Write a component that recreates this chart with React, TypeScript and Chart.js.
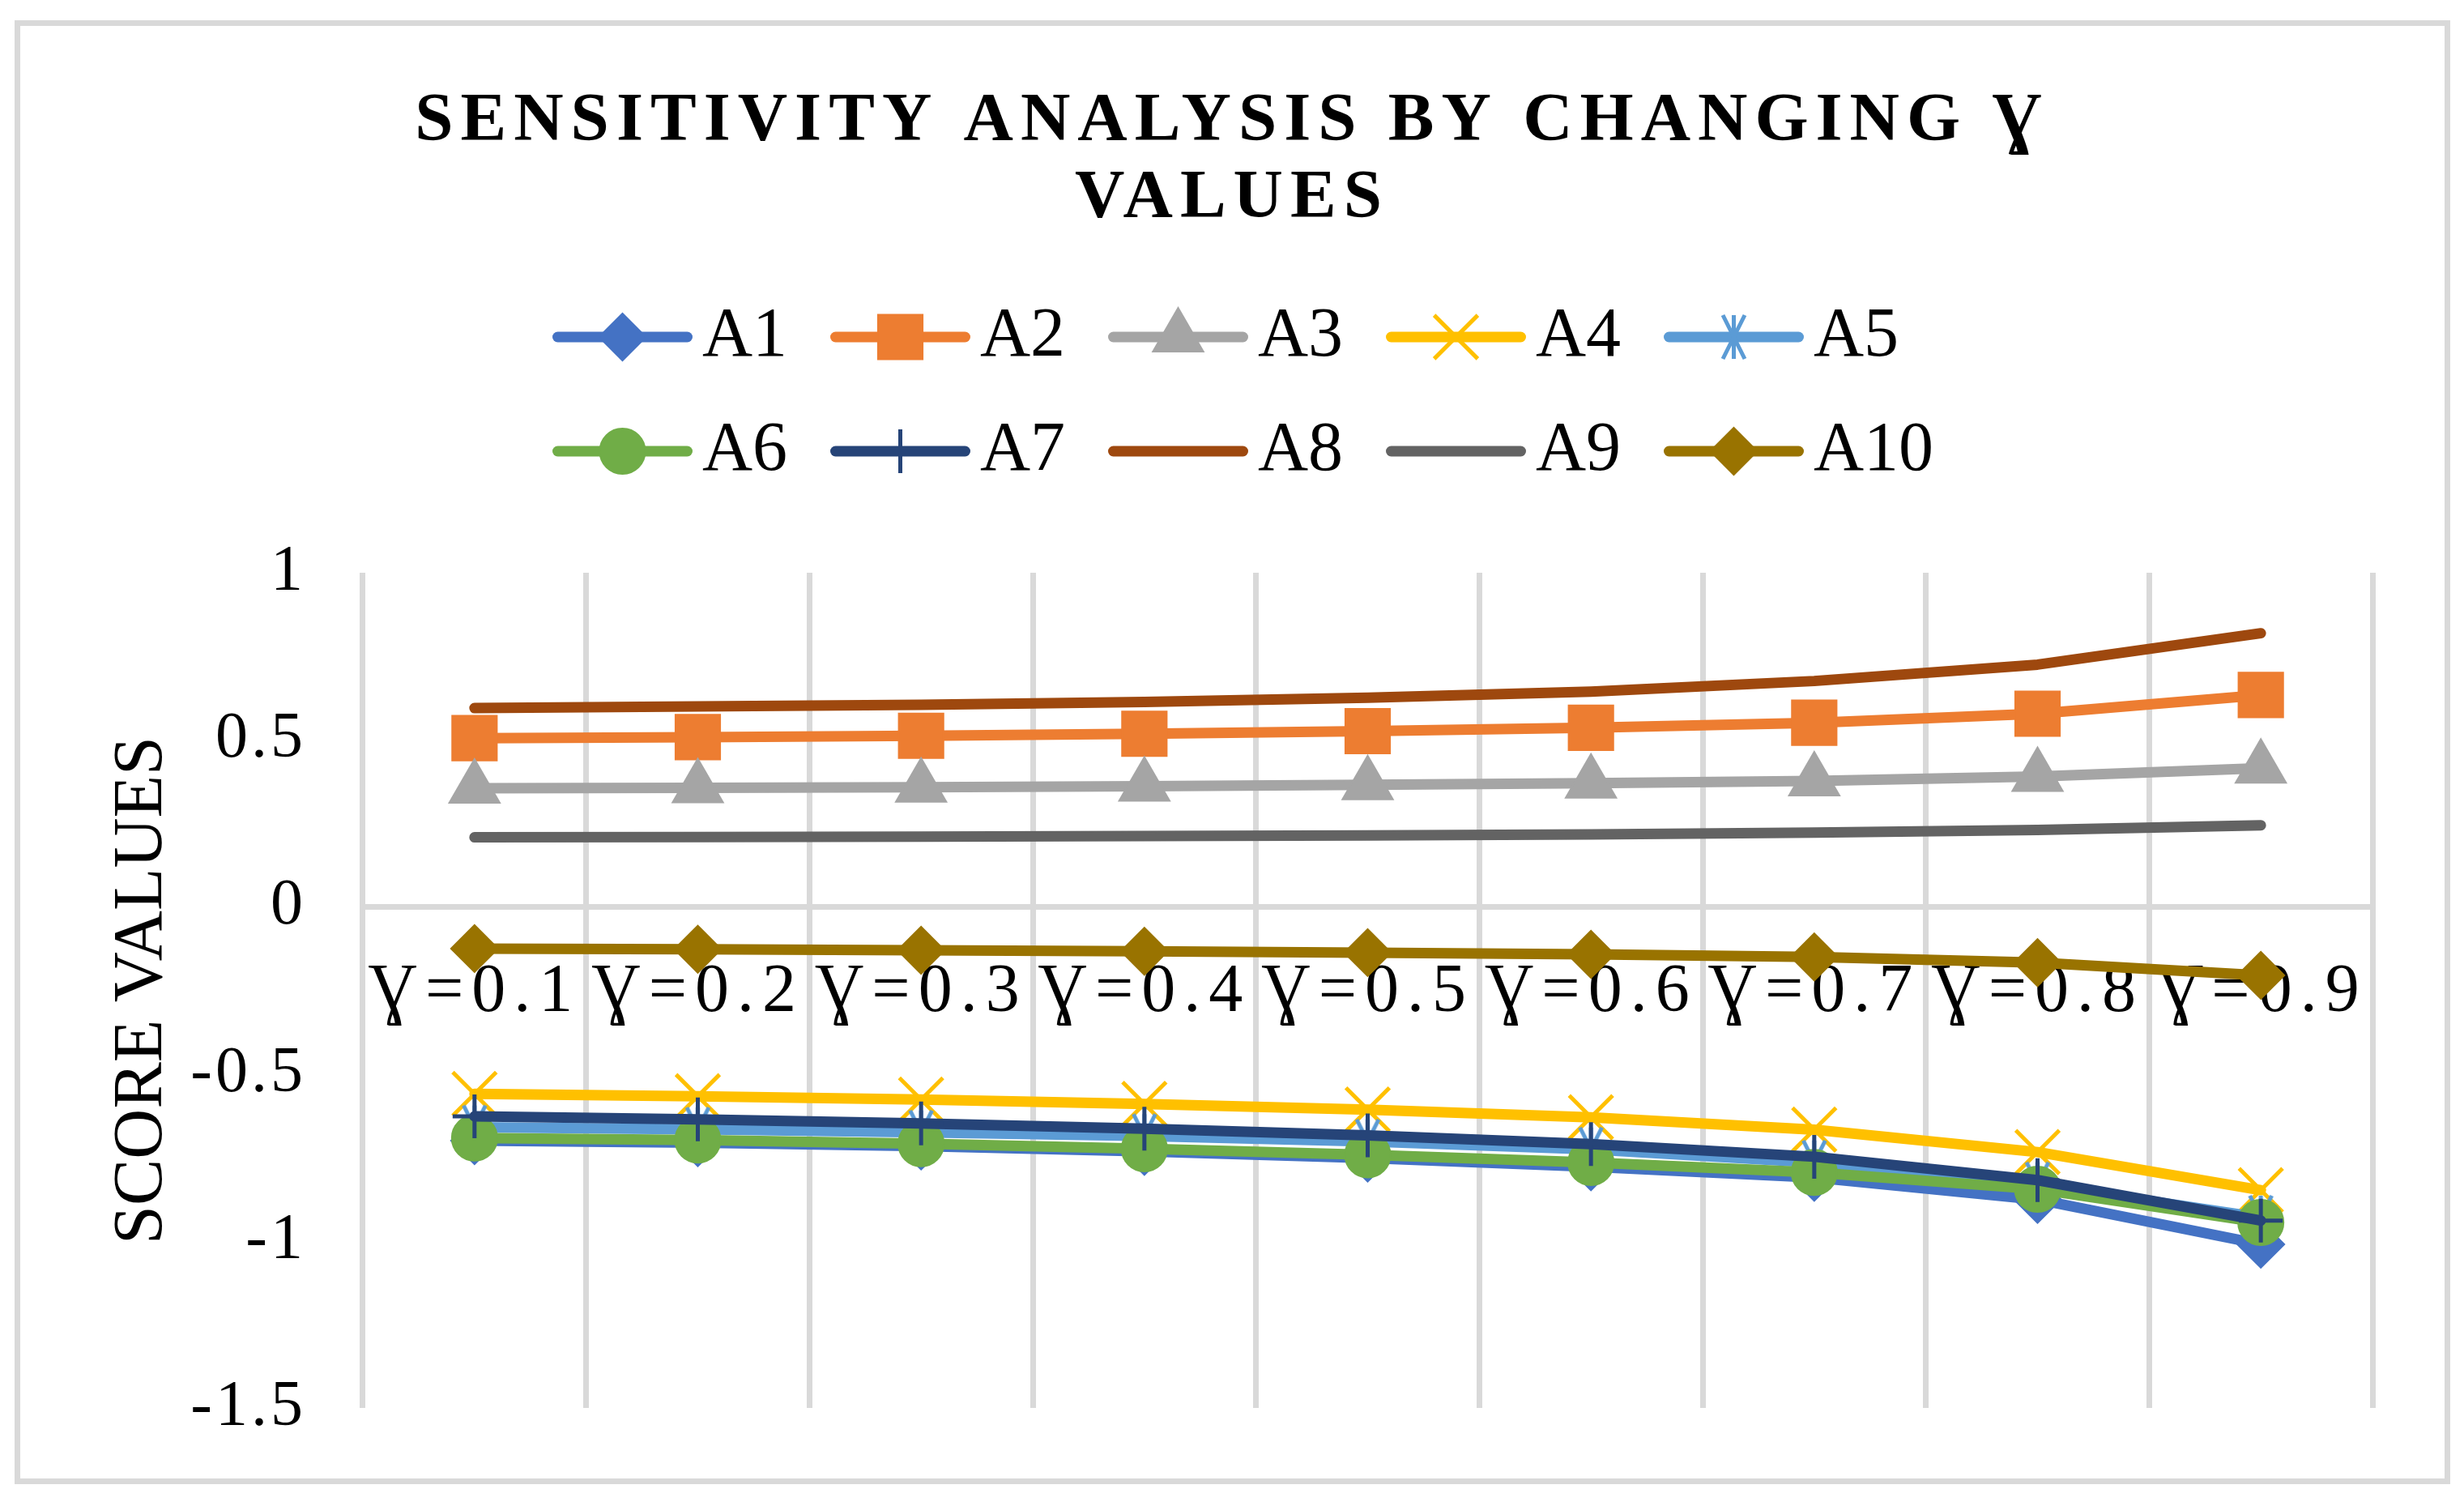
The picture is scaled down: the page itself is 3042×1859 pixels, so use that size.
import React, { useEffect, useRef } from 'react';
import { Chart, registerables, CategoryScale, LinearScale } from 'chart.js';

Chart.register(...registerables);

// ---------------- data ----------------
const CATEGORIES = ['Ɣ=0.1', 'Ɣ=0.2', 'Ɣ=0.3', 'Ɣ=0.4', 'Ɣ=0.5', 'Ɣ=0.6', 'Ɣ=0.7', 'Ɣ=0.8', 'Ɣ=0.9'];
const SERIES_NAMES = ['A1', 'A2', 'A3', 'A4', 'A5', 'A6', 'A7', 'A8', 'A9', 'A10'];

const A1 = [-0.7, -0.706, -0.716, -0.732, -0.752, -0.778, -0.81, -0.876, -1.01];
const A2 = [0.505, 0.508, 0.512, 0.518, 0.526, 0.536, 0.551, 0.578, 0.634];
const A3 = [0.355, 0.356, 0.358, 0.361, 0.365, 0.37, 0.377, 0.39, 0.415];
const A4 = [-0.56, -0.567, -0.577, -0.59, -0.607, -0.63, -0.667, -0.734, -0.848];
const A5 = [-0.66, -0.666, -0.675, -0.686, -0.702, -0.726, -0.765, -0.83, -0.93];
const A6 = [-0.692, -0.698, -0.709, -0.724, -0.742, -0.765, -0.795, -0.845, -0.945];
const A7 = [-0.627, -0.636, -0.648, -0.664, -0.684, -0.71, -0.748, -0.818, -0.939];
const A8 = [0.595, 0.6, 0.605, 0.613, 0.626, 0.644, 0.676, 0.725, 0.819];
const A9 = [0.208, 0.209, 0.21, 0.212, 0.214, 0.217, 0.222, 0.23, 0.244];
const A10 = [-0.125, -0.127, -0.13, -0.133, -0.137, -0.142, -0.15, -0.167, -0.205];
const SERIES_VALUES = [A1, A2, A3, A4, A5, A6, A7, A8, A9, A10];

const Y_MIN = -1.5;
const Y_MAX = 1;
const Y_STEP = 0.5;

const TITLE_LINES = ['SENSITIVITY ANALYSIS BY CHANGING Ɣ', 'VALUES'];
const Y_TITLE = 'SCORE VALUES';

// ---------------- styles ----------------
const SERIF = '"Liberation Serif", "Times New Roman", serif';
const COLORS = ['#4472C4', '#ED7D31', '#A5A5A5', '#FFC000', '#5B9BD5', '#70AD47', '#264478', '#9E480E', '#636363', '#997300'];
const MARKERS: any[] = [
  { style: 'rectRot', radius: 29, bw: 2 },
  { style: 'rect', radius: 39, bw: 2 },
  { style: 'triangle', radius: 36, bw: 2 },
  { style: 'crossRot', radius: 38, bw: 5 },
  { style: 'asterisk', radius: 27, bw: 5 },
  { style: 'circle', radius: 28, bw: 2 },
  { style: 'cross', radius: 27, bw: 5 },
  null,
  null,
  { style: 'rectRot', radius: 29, bw: 2 },
];
const GRID_COLOR = '#D9D9D9';
const LINE_W = 13;
const W = 3042;
const H = 1859;

const TITLE_SPACING = '9px';
const X_TICK_SPACING = '10px';
const Y_TICK_SPACING = '4px';

const LEGEND_ROWS_Y = [416, 557];
const LEGEND_HALF_SPAN = 839;
const LEGEND_PITCH = 343;
const LEGEND_SAMPLE = 173;
const LEGEND_GAP = 12;
const LEGEND_FONT = 86;

function drawMarker(ctx: CanvasRenderingContext2D, style: string, x: number, y: number, r: number, color: string, bw: number) {
  ctx.save();
  ctx.fillStyle = color;
  ctx.strokeStyle = color;
  ctx.lineWidth = bw;
  ctx.beginPath();
  if (style === 'rectRot') {
    ctx.moveTo(x - r, y);
    ctx.lineTo(x, y - r);
    ctx.lineTo(x + r, y);
    ctx.lineTo(x, y + r);
    ctx.closePath();
    ctx.fill();
    ctx.stroke();
  } else if (style === 'rect') {
    const s = r * Math.SQRT1_2;
    ctx.rect(x - s, y - s, 2 * s, 2 * s);
    ctx.fill();
    ctx.stroke();
  } else if (style === 'triangle') {
    ctx.moveTo(x, y - r);
    ctx.lineTo(x + r * Math.sin((2 * Math.PI) / 3), y + r / 2);
    ctx.lineTo(x - r * Math.sin((2 * Math.PI) / 3), y + r / 2);
    ctx.closePath();
    ctx.fill();
    ctx.stroke();
  } else if (style === 'circle') {
    ctx.arc(x, y, r, 0, Math.PI * 2);
    ctx.fill();
    ctx.stroke();
  } else if (style === 'crossRot') {
    const d = r * Math.SQRT1_2;
    ctx.moveTo(x - d, y - d);
    ctx.lineTo(x + d, y + d);
    ctx.moveTo(x - d, y + d);
    ctx.lineTo(x + d, y - d);
    ctx.stroke();
  } else if (style === 'cross') {
    ctx.moveTo(x, y - r);
    ctx.lineTo(x, y + r);
    ctx.moveTo(x - r, y);
    ctx.lineTo(x + r, y);
    ctx.stroke();
  } else if (style === 'asterisk') {
    const d = r * 0.5;
    ctx.moveTo(x - d, y - r);
    ctx.lineTo(x + d, y + r);
    ctx.moveTo(x - d, y + r);
    ctx.lineTo(x + d, y - r);
    ctx.moveTo(x, y - r);
    ctx.lineTo(x, y + r);
    ctx.stroke();
  }
  ctx.restore();
}

function makeMarkerCanvas(style: string, r: number, color: string, bw: number) {
  const size = Math.ceil(2 * r + 2 * bw);
  const c = document.createElement('canvas');
  c.width = size;
  c.height = size;
  const cctx = c.getContext('2d')!;
  drawMarker(cctx, style, size / 2, size / 2, r, color, bw);
  return c;
}

class SpacedCategoryScale extends CategoryScale {
  static id = 'spacedCategory';
  drawLabels(area: any) {
    const ctx: any = this.ctx;
    ctx.save();
    ctx.letterSpacing = X_TICK_SPACING;
    super.drawLabels(area);
    ctx.restore();
  }
}

class SpacedLinearScale extends LinearScale {
  static id = 'spacedLinear';
  drawLabels(area: any) {
    const ctx: any = this.ctx;
    ctx.save();
    ctx.letterSpacing = Y_TICK_SPACING;
    super.drawLabels(area);
    ctx.restore();
  }
  drawTitle() {
    const ctx: any = this.ctx;
    ctx.save();
    ctx.letterSpacing = '0px';
    super.drawTitle();
    ctx.restore();
  }
}

Chart.register(SpacedCategoryScale as any, SpacedLinearScale as any);

const framePlugin = {
  id: 'excelFrame',
  beforeDraw(chart: any) {
    const ctx = chart.ctx;
    ctx.save();
    ctx.strokeStyle = GRID_COLOR;
    ctx.lineWidth = 7;
    ctx.strokeRect(21.5, 28.5, 3000, 1800);
    ctx.restore();
    ctx.letterSpacing = TITLE_SPACING;
  },
  afterDraw(chart: any) {
    const ctx = chart.ctx;
    ctx.letterSpacing = '0px';
    ctx.save();
    ctx.font = `${LEGEND_FONT}px ${SERIF}`;
    ctx.textBaseline = 'middle';
    ctx.textAlign = 'left';
    const x0 = chart.width / 2 - LEGEND_HALF_SPAN;
    SERIES_NAMES.forEach((name, i) => {
      const row = Math.floor(i / 5);
      const col = i % 5;
      const x = x0 + col * LEGEND_PITCH;
      const y = LEGEND_ROWS_Y[row];
      const color = COLORS[i];
      ctx.save();
      ctx.strokeStyle = color;
      ctx.lineWidth = LINE_W;
      ctx.lineCap = 'round';
      ctx.beginPath();
      ctx.moveTo(x + LINE_W / 2, y);
      ctx.lineTo(x + LEGEND_SAMPLE - LINE_W / 2, y);
      ctx.stroke();
      ctx.restore();
      const m = MARKERS[i];
      if (m) drawMarker(ctx, m.style, x + LEGEND_SAMPLE / 2, y, m.radius, color, m.bw);
      ctx.fillStyle = '#000';
      ctx.fillText(name, x + LEGEND_SAMPLE + LEGEND_GAP, y);
    });
    ctx.restore();
  },
};

export default function App() {
  const ref = useRef<HTMLCanvasElement | null>(null);

  useEffect(() => {
    document.body.style.margin = '0';
    document.body.style.overflow = 'hidden';
    const canvas = ref.current;
    if (!canvas) return;

    const datasets = SERIES_NAMES.map((name, i) => {
      const m = MARKERS[i];
      const color = COLORS[i];
      let pointStyle: any = m ? m.style : 'circle';
      if (m && m.style === 'asterisk') pointStyle = makeMarkerCanvas('asterisk', m.radius, color, m.bw);
      return {
        label: name,
        data: SERIES_VALUES[i],
        yAxisID: 'y',
        borderColor: color,
        backgroundColor: color,
        borderWidth: LINE_W,
        borderCapStyle: 'round',
        borderJoinStyle: 'round',
        tension: 0,
        pointStyle,
        pointRadius: m ? m.radius : 0,
        pointHoverRadius: m ? m.radius : 0,
        pointBorderWidth: m ? m.bw : 0,
        pointBackgroundColor: color,
        pointBorderColor: color,
        order: SERIES_NAMES.length - i,
      };
    });

    const chart = new Chart(canvas, {
      type: 'line',
      data: { labels: CATEGORIES, datasets: datasets as any },
      options: {
        animation: false,
        responsive: false,
        devicePixelRatio: 1,
        layout: { padding: { top: 0, left: 0, right: 0, bottom: 121 } },
        plugins: {
          legend: { display: false },
          tooltip: { enabled: false },
          title: {
            display: true,
            text: TITLE_LINES,
            color: '#000',
            font: { family: SERIF, size: 85, weight: 'bold', lineHeight: 95 / 85 },
            padding: { top: 104, bottom: 413 },
          },
        },
        scales: {
          x: {
            type: 'spacedCategory' as any,
            offset: true,
            position: { y: 0 } as any,
            grid: { offset: true, color: GRID_COLOR, lineWidth: 7, drawTicks: false },
            border: { display: true, color: GRID_COLOR, width: 7 },
            ticks: {
              color: '#000',
              font: { family: SERIF, size: 84, lineHeight: 1.2 },
              padding: 56,
              autoSkip: false,
              maxRotation: 0,
              minRotation: 0,
            },
          },
          y: {
            type: 'spacedLinear' as any,
            position: 'left',
            min: Y_MIN,
            max: Y_MAX,
            grid: { display: false, drawTicks: false },
            border: { display: false },
            ticks: {
              stepSize: Y_STEP,
              color: '#000',
              font: { family: SERIF, size: 80, lineHeight: 1.2 },
              padding: 70,
              callback: (v: any) => String(Math.round(Number(v) * 10) / 10),
            },
            title: {
              display: true,
              text: Y_TITLE,
              color: '#000',
              font: { family: SERIF, size: 86, lineHeight: 1 },
              padding: { top: 133, bottom: 0 },
            },
            afterFit: (scale: any) => {
              scale.width = 448;
            },
          },
          yRight: {
            type: 'linear',
            position: 'right',
            display: true,
            grid: { display: false, drawTicks: false },
            border: { display: false },
            ticks: { display: false },
            afterFit: (scale: any) => {
              scale.width = 113;
            },
          },
        },
      } as any,
      plugins: [framePlugin],
    });

    return () => chart.destroy();
  }, []);

  return (
    <div style={{ width: W, height: H, position: 'relative', background: '#fff' }}>
      <canvas ref={ref} width={W} height={H} style={{ width: W, height: H, display: 'block' }} />
    </div>
  );
}
